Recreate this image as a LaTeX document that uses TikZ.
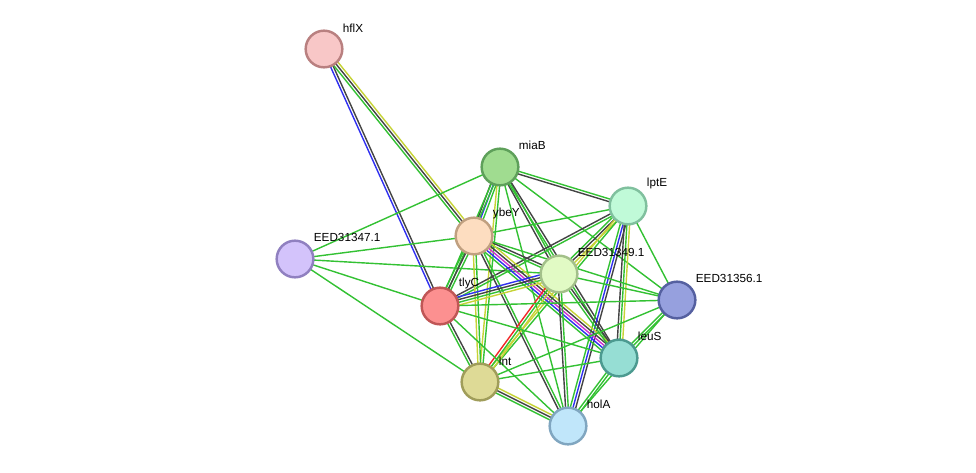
\documentclass[tikz,border=0pt]{standalone}
\usepackage{fontspec}
\setmainfont{Liberation Sans}
\usepackage{tikz}
\usetikzlibrary{calc,backgrounds}
\definecolor{sgreen}{HTML}{33C133}
\definecolor{sblack}{HTML}{444444}
\definecolor{sblue}{HTML}{3030F0}
\definecolor{syellow}{HTML}{C6D336}
\definecolor{smagenta}{HTML}{D030D0}
\definecolor{sred}{HTML}{F02828}

% one STRING link: nodes, number of lines, colours of the lines
\newcommand{\strlink}[4]{%
  \foreach \c [count=\i] in {#4} {%
    \pgfmathsetmacro{\off}{(\i-(#3+1)/2)*2.3}
    \draw[link, draw=\c] ($(#1)!\off pt!90:(#2)$) -- ($(#2)!\off pt!-90:(#1)$);
  }}

\begin{document}
\begin{tikzpicture}[
  x=0.03cm, y=-0.03cm,
  prot/.style={circle, line width=2.1pt, minimum size=1.1cm, inner sep=0pt,
               label={[lbl, label distance=1.2mm, xshift=0.6mm]45:#1}},
  lbl/.style={font=\fontsize{10}{12}\selectfont, text=black, inner sep=0pt},
  link/.style={line width=1.2pt}
]
\useasboundingbox (0,0) rectangle (976,472);

\node[prot=hflX, fill={rgb,255:red,248;green,199;blue,199}, draw={rgb,255:red,185;green,128;blue,128}] (hflX) at (324,49) {};
\node[prot=miaB, fill={rgb,255:red,160;green,220;blue,144}, draw={rgb,255:red,94;green,160;blue,90}] (miaB) at (500,167) {};
\node[prot=lptE, fill={rgb,255:red,192;green,250;blue,216}, draw={rgb,255:red,128;green,192;blue,158}] (lptE) at (628,206) {};
\node[prot=ybeY, fill={rgb,255:red,253;green,221;blue,192}, draw={rgb,255:red,192;green,160;blue,128}] (ybeY) at (474,236) {};
\node[prot=EED31347.1, fill={rgb,255:red,211;green,195;blue,251}, draw={rgb,255:red,144;green,128;blue,192}] (e347) at (295,259) {};
\node[prot=EED31349.1, fill={rgb,255:red,225;green,250;blue,196}, draw={rgb,255:red,163;green,192;blue,138}] (e349) at (559,274) {};
\node[prot=EED31356.1, fill={rgb,255:red,150;green,160;blue,222}, draw={rgb,255:red,85;green,96;blue,160}] (e356) at (677,300) {};
\node[prot=tlyC, fill={rgb,255:red,252;green,144;blue,144}, draw={rgb,255:red,192;green,86;blue,86}] (tlyC) at (440,306) {};
\node[prot=leuS, fill={rgb,255:red,150;green,222;blue,212}, draw={rgb,255:red,76;green,154;blue,144}] (leuS) at (619,358) {};
\node[prot=lnt, fill={rgb,255:red,222;green,218;blue,150}, draw={rgb,255:red,160;green,157;blue,90}] (lnt) at (480,382) {};
\node[prot=holA, fill={rgb,255:red,192;green,230;blue,250}, draw={rgb,255:red,128;green,166;blue,192}] (holA) at (568,426) {};

\begin{scope}[on background layer]
\strlink{hflX}{tlyC}{2}{sblue,sblack}
\strlink{hflX}{ybeY}{3}{sgreen,sblack,syellow}
\strlink{e347}{miaB}{1}{sgreen}
\strlink{e347}{ybeY}{1}{sgreen}
\strlink{e347}{e349}{1}{sgreen}
\strlink{e347}{tlyC}{1}{sgreen}
\strlink{e347}{lnt}{1}{sgreen}
\strlink{miaB}{ybeY}{3}{sblack,sblue,sgreen}
\strlink{miaB}{tlyC}{2}{sgreen,sgreen}
\strlink{miaB}{lnt}{2}{syellow,sgreen}
\strlink{miaB}{lptE}{2}{sblack,sgreen}
\strlink{miaB}{e349}{2}{sblack,sgreen}
\strlink{miaB}{leuS}{2}{sgreen,sblack}
\strlink{miaB}{holA}{1}{sgreen}
\strlink{miaB}{e356}{1}{sgreen}
\strlink{lptE}{ybeY}{1}{sgreen}
\strlink{lptE}{e349}{3}{sgreen,sblack,syellow}
\strlink{lptE}{tlyC}{2}{sblack,sgreen}
\strlink{lptE}{lnt}{2}{syellow,sgreen}
\strlink{lptE}{holA}{3}{sgreen,sblue,sblack}
\strlink{lptE}{leuS}{3}{sblack,sgreen,syellow}
\strlink{lptE}{e356}{1}{sgreen}
\strlink{ybeY}{e349}{2}{sgreen,sblack}
\strlink{ybeY}{leuS}{5}{sgreen,sblue,smagenta,sblack,syellow}
\strlink{ybeY}{tlyC}{3}{sgreen,sblack,sgreen}
\strlink{ybeY}{lnt}{2}{syellow,sgreen}
\strlink{ybeY}{holA}{2}{sblack,sgreen}
\strlink{ybeY}{e356}{1}{sgreen}
\strlink{e349}{tlyC}{4}{sblue,sblack,sgreen,syellow}
\strlink{e349}{lnt}{3}{sred,sgreen,syellow}
\strlink{e349}{holA}{2}{sblack,sgreen}
\strlink{e349}{leuS}{2}{sgreen,sblack}
\strlink{e349}{e356}{1}{sgreen}
\strlink{tlyC}{lnt}{2}{sgreen,sblack}
\strlink{tlyC}{holA}{1}{sgreen}
\strlink{tlyC}{leuS}{1}{sgreen}
\strlink{tlyC}{e356}{1}{sgreen}
\strlink{lnt}{holA}{3}{sgreen,sblack,syellow}
\strlink{lnt}{leuS}{1}{sgreen}
\strlink{lnt}{e356}{1}{sgreen}
\strlink{holA}{leuS}{2}{sgreen,sgreen}
\strlink{holA}{e356}{1}{sgreen}
\strlink{leuS}{e356}{2}{sgreen,sgreen}
\end{scope}
\end{tikzpicture}
\end{document}
